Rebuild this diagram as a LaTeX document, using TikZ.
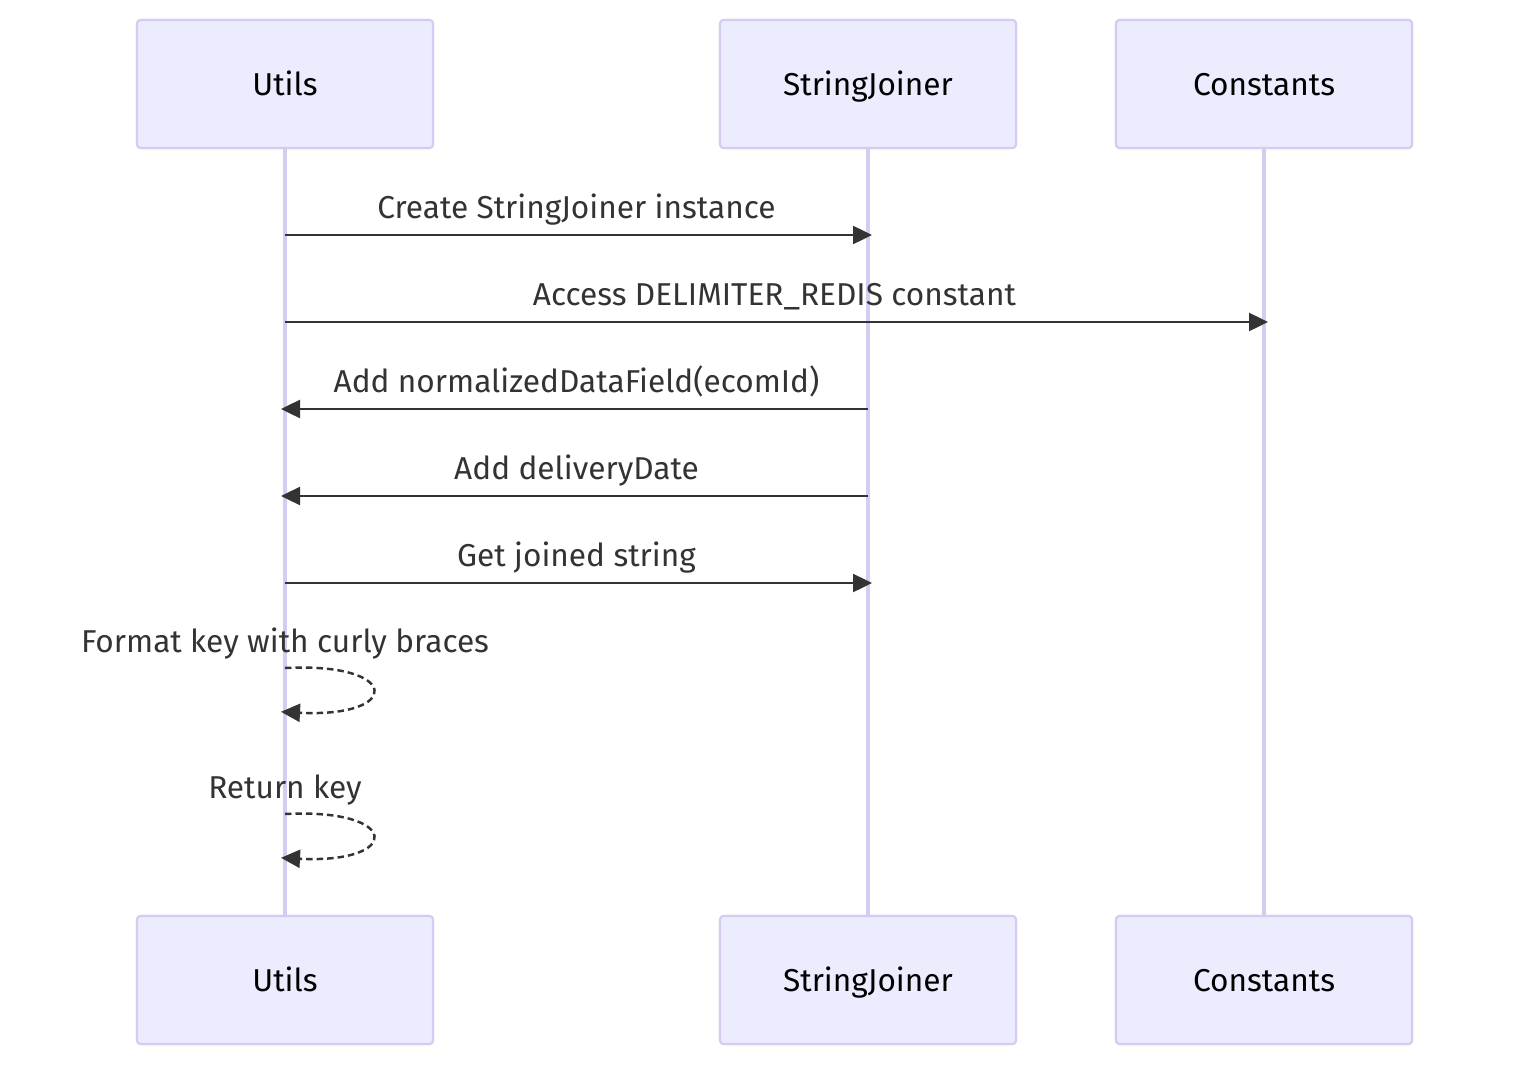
\documentclass[tikz,border=0pt]{standalone}
\usepackage{fontspec}
\setmainfont{Fira Sans}
\usetikzlibrary{positioning,calc,arrows.meta}
\definecolor{actfill}{HTML}{ECECFF}
\definecolor{actline}{HTML}{D6CCF2}
\definecolor{msgcol}{HTML}{333333}
\begin{document}
\begin{tikzpicture}[x=0.02cm, y=-0.02cm,
    actor/.style={rectangle, draw=actline, fill=actfill, line width=1.2pt, rounded corners=2pt,
        minimum width=5.92cm, minimum height=2.56cm, font=\fontsize{18}{21}\selectfont, text=black,
        text height=15.6pt, text depth=3pt},
    life/.style={draw=actline, line width=2pt},
    msg/.style={draw=msgcol, line width=1.4pt, -{Triangle[length=0.38cm, width=0.36cm]}, shorten >=-0.08cm},
    self/.style={msg, dash pattern=on 0.13cm off 0.08cm},
    lbl/.style={text=msgcol, font=\fontsize{18}{21}\selectfont, inner sep=0pt, anchor=base}]
    \useasboundingbox (0,0) rectangle (1528,1078);
    % participants
    \node [actor] (ut) at (285,84) {Utils};
    \node [actor] (sj) at (868,84) {StringJoiner};
    \node [actor] (co) at (1264,84) {Constants};
    \node [actor] (utb) at (285,980) {Utils};
    \node [actor] (sjb) at (868,980) {StringJoiner};
    \node [actor] (cob) at (1264,980) {Constants};

    % lifelines
    \draw [life] (ut) -- (utb);
    \draw [life] (sj) -- (sjb);
    \draw [life] (co) -- (cob);
    \node [actor] at (ut) {Utils};
    \node [actor] at (sj) {StringJoiner};
    \node [actor] at (co) {Constants};
    \node [actor] at (utb) {Utils};
    \node [actor] at (sjb) {StringJoiner};
    \node [actor] at (cob) {Constants};

    % message rows
    \coordinate (r1) at (0,235);
    \coordinate (r2) at (0,322);
    \coordinate (r3) at (0,409);
    \coordinate (r4) at (0,496);
    \coordinate (r5) at (0,583);

    \draw [msg] (ut |- r1) -- node [lbl, yshift=0.33cm] {Create StringJoiner instance} (sj |- r1);
    \draw [msg] (ut |- r2) -- node [lbl, yshift=0.33cm] {Access DELIMITER\_REDIS constant} (co |- r2);
    \draw [msg] (sj |- r3) -- node [lbl, yshift=0.33cm] {Add normalizedDataField(ecomId)} (ut |- r3);
    \draw [msg] (sj |- r4) -- node [lbl, yshift=0.33cm] {Add deliveryDate} (ut |- r4);
    \draw [msg] (ut |- r5) -- node [lbl, yshift=0.33cm] {Get joined string} (sj |- r5);

    % self calls
    \coordinate (s1a) at (285,668);
    \coordinate (s1b) at (285,712);
    \coordinate (s2a) at (285,814);
    \coordinate (s2b) at (285,858);
    \node [lbl] (f1) at (285,652) {Format key with curly braces};
    \node [lbl] (f2) at (285,798) {Return key};
    \draw [self] (s1a) .. controls (402,662) and (402,718) .. (s1b);
    \draw [self] (s2a) .. controls (402,808) and (402,864) .. (s2b);
\end{tikzpicture}
\end{document}
